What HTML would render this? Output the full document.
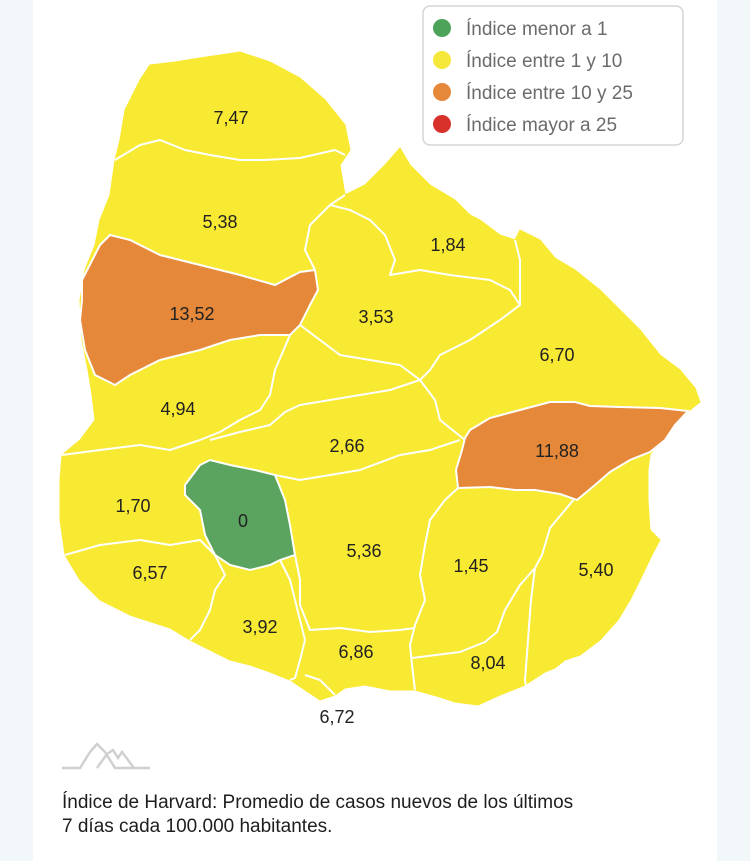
<!DOCTYPE html>
<html><head><meta charset="utf-8"><style>
html,body{margin:0;padding:0;width:750px;height:861px;background:#f2f8f9;overflow:hidden}
#card{position:absolute;left:33px;top:0;width:684px;height:861px;background:#fff}
svg{position:absolute;left:0;top:0}
.t{font-family:"Liberation Sans",sans-serif;font-size:18px;fill:#222;text-anchor:middle}
.l{font-family:"Liberation Sans",sans-serif;font-size:19px;fill:#6b6b6b}
.b{position:absolute;left:62px;font-family:"Liberation Sans",sans-serif;font-size:19px;color:#1e1e1e;line-height:24px}
</style></head><body>
<div id="card"></div>
<svg width="750" height="861" viewBox="0 0 750 861">
<polygon fill="#f8e932" stroke="#f8e932" stroke-width="1" points="150,65 175,62 200,58 240,52 270,62 300,78 325,100 345,125 350,150 340,165 345,195 365,185 385,165 400,148 410,165 430,185 455,200 470,215 480,220 500,235 515,240 520,230 540,240 555,258 575,270 600,290 620,310 640,330 660,355 680,370 695,388 700,402 690,410 675,425 660,440 650,455 648,470 648,500 650,530 660,540 652,555 640,580 630,600 618,620 600,640 580,655 565,660 555,668 545,672 525,685 500,695 478,705 455,702 440,697 415,690 390,690 365,685 345,688 335,695 320,700 305,690 290,680 270,672 250,665 230,660 210,650 190,640 170,628 130,615 100,600 80,580 65,555 60,520 60,480 62,455 80,440 95,420 92,395 88,370 82,340 80,300 85,270 95,245 100,220 110,195 115,160 120,140 125,110 140,80"/>
<g fill="none" stroke="#fff" stroke-width="2" stroke-linejoin="round">
<polyline points="115,160 140,145 160,140 185,150 210,155 240,160 265,160 300,158 335,150 345,155"/>
<polyline points="315,270 305,250 310,225 330,205 345,195"/>
<polyline points="330,205 350,210 370,220 385,235 395,260 390,275 420,270 450,275 490,280 510,290 520,305 520,275 520,260 515,240"/>
<polyline points="520,305 500,320 470,340 440,355 430,370 420,380 435,400 440,420 465,440 470,445"/>
<polyline points="300,325 320,340 340,355 370,360 400,365 420,380"/>
<polyline points="62,455 100,450 140,445 170,450 200,440 220,432 240,420 260,410 270,395 275,370 290,335"/>
<polyline points="210,440 240,432 270,425 285,412 300,405 330,400 360,395 390,390 420,380"/>
<polyline points="275,475 300,480 330,475 360,470 400,455 430,450 460,440"/>
<polyline points="458,488 445,500 430,520 425,545 420,575 425,600 415,625 410,645 412,665 415,690"/>
<polyline points="575,498 565,510 550,528 542,555 535,568 520,585 505,610 497,632 485,642 460,652 412,658"/>
<polyline points="535,568 531,600 528,640 525,680 527,692"/>
<polyline points="295,555 300,580 300,605 310,630 340,628 370,632 400,630 415,628"/>
<polyline points="65,555 100,545 140,540 170,545 200,540 215,555"/>
<polyline points="215,555 225,575 215,590 210,610 200,630 190,640"/>
<polyline points="280,560 290,580 295,600 300,620 305,640 300,660 295,678 290,680"/>
<polyline points="305,675 320,680 330,690 335,695"/>
</g>
<polygon fill="#e5883a" stroke="#fff" stroke-width="2" points="82,280 100,245 110,235 130,240 160,255 200,265 240,275 275,285 300,272 315,270 318,290 310,305 300,325 290,335 260,335 230,340 200,350 160,360 130,375 115,385 95,375 85,350 80,320 82,300"/>
<polygon fill="#e5883a" stroke="#fff" stroke-width="2" points="470,430 490,418 520,410 550,402 575,402 590,406 620,407 660,408 688,411 675,425 665,440 650,452 630,460 610,472 595,485 577,500 560,494 535,490 515,490 490,487 458,488 456,470 462,450 465,438"/>
<polygon fill="#5aa460" stroke="#fff" stroke-width="2" points="185,485 200,465 210,460 230,465 255,470 275,475 285,500 290,525 295,555 280,560 270,565 250,570 230,565 215,555 205,535 200,510 185,495"/>
<g class="t">
<text x="231" y="124">7,47</text><text x="220" y="228">5,38</text><text x="192" y="320">13,52</text>
<text x="448" y="251">1,84</text><text x="376" y="323">3,53</text><text x="557" y="361">6,70</text>
<text x="178" y="415">4,94</text><text x="347" y="452">2,66</text><text x="557" y="457">11,88</text>
<text x="133" y="512">1,70</text><text x="243" y="527">0</text><text x="364" y="557">5,36</text>
<text x="471" y="572">1,45</text><text x="596" y="576">5,40</text><text x="150" y="579">6,57</text>
<text x="260" y="633">3,92</text><text x="356" y="658">6,86</text><text x="488" y="669">8,04</text>
<text x="337" y="723">6,72</text>
</g>
<rect x="423" y="6" width="260" height="139" rx="7" fill="#fff" stroke="#d6d6d6" stroke-width="1.5"/>
<circle cx="442" cy="28" r="9" fill="#4ea35a"/><circle cx="442" cy="60" r="9" fill="#f6e83a"/>
<circle cx="442" cy="92" r="9" fill="#e5883a"/><circle cx="442" cy="124" r="9" fill="#d8312c"/>
<text class="l" x="466" y="35">Índice menor a 1</text>
<text class="l" x="466" y="67">Índice entre 1 y 10</text>
<text class="l" x="466" y="99">Índice entre 10 y 25</text>
<text class="l" x="466" y="131">Índice mayor a 25</text>
<g fill="none" stroke="#d0d0d0" stroke-width="2.5">
<polyline points="62,768 80,768 90,752 97,744 105,752 115,768 150,768"/>
<polyline points="97,768 107,754 113,750 118,758 122,752 128,760 134,768"/>
</g>
</svg>
<div class="b" style="top:791px">Índice de Harvard: Promedio de casos nuevos de los últimos<br>7 días cada 100.000 habitantes.</div>
</body></html>
